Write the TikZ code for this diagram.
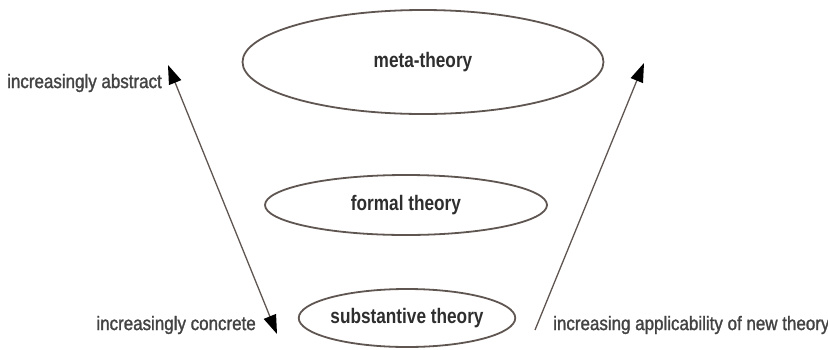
\documentclass[tikz,border=0pt]{standalone}
\usepackage{fontspec}
\setmainfont{Liberation Sans}[FakeStretch=0.82]
\newfontfamily\sidefont{Liberation Sans}[FakeStretch=0.87, FakeBold=1.4]
\usetikzlibrary{arrows.meta,positioning,shapes.geometric}
\definecolor{rimgray}{HTML}{5F5652}
\definecolor{txtgray}{HTML}{2E2E2E}

\begin{document}
\begin{tikzpicture}[
    x=1pt, y=-1pt,
    level/.style={ellipse, draw=rimgray, line width=1.8pt, inner sep=0pt, text=txtgray,
                  font=\fontsize{21}{24}\selectfont\bfseries},
    side/.style={inner sep=0pt, text=txtgray!90, font=\sidefont\fontsize{19.5}{22}\selectfont},
    arr/.style={-{Triangle[length=19pt,width=13pt,color=black]}, line width=1.3pt, draw=rimgray},
]
\useasboundingbox (0,0) rectangle (828,349);

\node[level, minimum width=361pt, minimum height=104pt] (meta) at (423,62) {meta-theory};
\node[level, minimum width=282pt, minimum height=60pt] (formal) at (406,205) {formal theory};
\node[level, minimum width=200pt, minimum height=58pt] (subst) at (407,318) {substantive theory};

\node[side, anchor=west] (abstract) at (7,83) {increasingly abstract};
\node[side, anchor=east] (concrete) at (256,325) {increasingly concrete};
\node[side, anchor=west] (applic) at (553,325) {increasing applicability of new theory};

\coordinate (abstip) at (168,65);
\coordinate (contip) at (277,334);
\coordinate (appfoot) at (535,330);
\coordinate (apptip) at (644,63);

\draw[arr, {Triangle[length=19pt,width=13pt,color=black]}-{Triangle[length=19pt,width=13pt,color=black]}] (abstip) -- (contip);
\draw[arr] (appfoot) -- (apptip);
\end{tikzpicture}
\end{document}
